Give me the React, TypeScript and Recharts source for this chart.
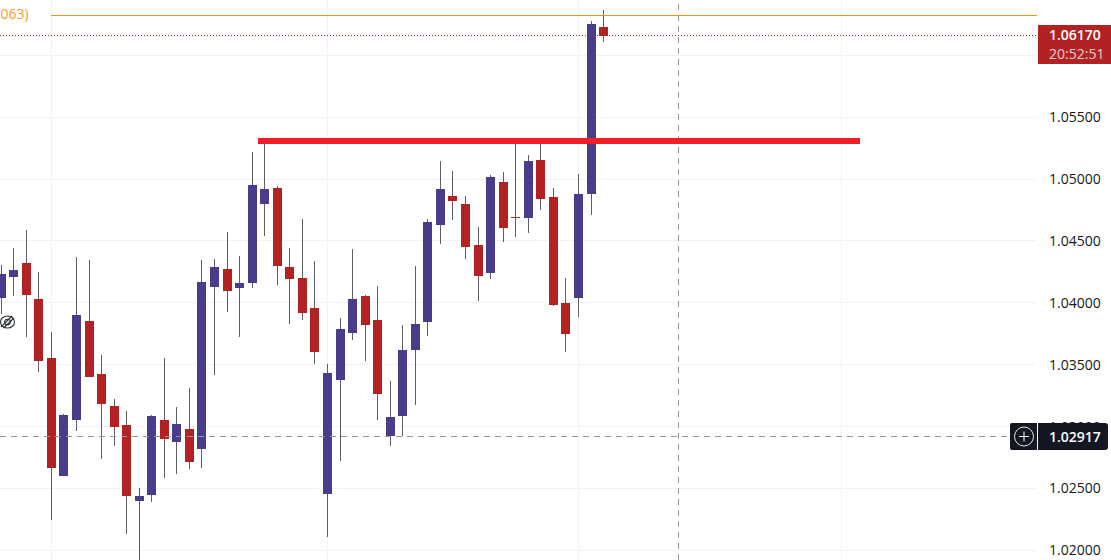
import React from "react";
import { ComposedChart, Bar, XAxis, YAxis, CartesianGrid, ReferenceLine } from "recharts";

const highs = [1.04306,1.04443,1.04588,1.04249,1.03764,1.03101,1.0437,1.04346,1.03578,1.03223,1.03126,1.02504,1.03093,1.03554,1.03158,1.03312,1.04346,1.04354,1.04572,1.04378,1.05219,1.05308,1.04944,1.04443,1.04677,1.04338,1.03506,1.03877,1.04435,1.04063,1.04136,1.03368,1.03821,1.04297,1.04677,1.05146,1.05065,1.04863,1.04613,1.05033,1.05057,1.05308,1.05194,1.05308,1.04928,1.042,1.05041,1.06277,1.06366];
const lows = [1.0391,1.04055,1.03724,1.03441,1.02245,1.026,1.02964,1.034,1.02738,1.02843,1.02132,1.01906,1.0239,1.02584,1.02617,1.02657,1.02665,1.03417,1.03926,1.03724,1.0412,1.0454,1.04144,1.03829,1.03861,1.03506,1.02108,1.02722,1.03699,1.0353,1.03053,1.02843,1.02924,1.03174,1.03732,1.04475,1.04669,1.04354,1.04015,1.04192,1.04491,1.04532,1.04564,1.0475,1.03974,1.03602,1.03885,1.0471,1.06108];
const opens = [1.04039,1.04209,1.04322,1.04031,1.03554,1.026,1.03053,1.03853,1.03425,1.03166,1.03013,1.02398,1.02447,1.03053,1.02875,1.0298,1.02819,1.04128,1.04273,1.0412,1.0416,1.04798,1.04928,1.04289,1.042,1.03958,1.02455,1.03376,1.03756,1.04055,1.03861,1.02924,1.03085,1.03619,1.03845,1.04629,1.04863,1.04798,1.04467,1.04241,1.04976,1.04693,1.04685,1.05154,1.04855,1.03998,1.04039,1.04879,1.06229];
const closes = [1.04233,1.04265,1.04063,1.0353,1.02665,1.03093,1.03901,1.034,1.03182,1.02996,1.02439,1.02439,1.03085,1.02899,1.03021,1.02714,1.04168,1.04289,1.04095,1.0416,1.04952,1.0492,1.04297,1.04192,1.03918,1.03602,1.03433,1.03788,1.04031,1.03821,1.03263,1.03077,1.03619,1.03829,1.04653,1.0492,1.04823,1.04451,1.04217,1.05017,1.04604,1.04685,1.05146,1.04839,1.03982,1.03748,1.04879,1.06253,1.06156];

const gridLevels = [1.02, 1.025, 1.03, 1.035, 1.04, 1.045, 1.05, 1.055, 1.06];
const axisLabels = [1.02, 1.025, 1.03, 1.035, 1.04, 1.045, 1.05, 1.055];
const timeGrid = [4, 26, 46, 66.98];

const resistanceLevel = 1.05308;
const resistanceFrom = 20.483;
const resistanceTo = 68.448;
const orangeLevel = 1.06322;
const orangeFrom = 3.988;
const orangeLabel = "063)";
const lastLineLevel = 1.0616;
const lastPrice = "1.06170";
const countdown = "20:52:51";
const crossLevel = 1.02919;
const crossPrice = "1.02917";
const crossBar = 53.99;

const xMin = -0.0745;
const xMax = 82.555;
const yMin = 1.019216;
const yMax = 1.064469;

const FONT = "'Open Sans', 'Noto Sans', sans-serif";
const UP = "#483d8b";
const DOWN = "#b22222";
const WICK = "#5d606b";
const DARK = "#131722";

const data = highs.map((h, i) => ({ i, range: [lows[i], h], open: opens[i], close: closes[i] }));

function Candle(props: any) {
  const { x, y, width, height, payload } = props;
  const [lo, hi] = payload.range;
  const unit = height / (hi - lo);
  const top = Math.round(y + (hi - Math.max(payload.open, payload.close)) * unit);
  const bottom = Math.round(y + (hi - Math.min(payload.open, payload.close)) * unit);
  const px = Math.floor(x + width / 2);
  const color = payload.close >= payload.open ? UP : DOWN;
  return (
    <g shapeRendering="crispEdges">
      <rect x={px} y={Math.round(y)} width={1} height={Math.round(height)} fill={WICK} />
      <rect x={px - 4} y={top} width={9} height={Math.max(1, bottom - top)} fill={color} />
    </g>
  );
}

function LastTag() {
  return (
    <g>
      <rect x={1038} y={25} width={73} height={39} fill={DOWN} />
      <text x={1049} y={40} fontFamily={FONT} fontSize={14} fontWeight={600} fill="#ffffff">{lastPrice}</text>
      <text x={1049} y={59} fontFamily={FONT} fontSize={14} fill="#f0cccc">{countdown}</text>
    </g>
  );
}

function CrossTag() {
  const cy = 436.5;
  return (
    <g>
      <path d="M1012 423H1037V450H1012Q1010 450 1010 448V425Q1010 423 1012 423Z" fill={DARK} />
      <circle cx={1024} cy={cy} r={9.5} fill="none" stroke="#e8e8ea" strokeWidth={1} />
      <path d={`M1024 ${cy - 5}V${cy + 5}M1019 ${cy}H1029`} stroke="#ffffff" strokeWidth={1} />
      <path d="M1038 423H1105Q1108 423 1108 426V447Q1108 450 1105 450H1038Z" fill={DARK} />
      <text x={1049} y={441.5} fontFamily={FONT} fontSize={14} fontWeight={600} fill="#ffffff">{crossPrice}</text>
    </g>
  );
}

function OrangeText() {
  return <text x={0.5} y={19} fontFamily={FONT} fontSize={14} fill="#f89b1f">{orangeLabel}</text>;
}

function EyeIcon() {
  return (
    <svg width={16} height={16} viewBox="0 0 16 16" style={{ position: "absolute", left: 0, top: 314 }}>
      <ellipse cx={7.5} cy={8} rx={7} ry={6} fill="none" stroke="#2a2e39" strokeWidth={1.1} />
      <circle cx={7.5} cy={8} r={2.8} fill="none" stroke="#2a2e39" strokeWidth={1.1} />
      <path d="M1 13L12 2M3.5 14L14 4" stroke="#2a2e39" strokeWidth={1.1} fill="none" />
    </svg>
  );
}

export default function App() {
  return (
    <div style={{ position: "absolute", left: 0, top: 0, width: 1111, height: 560, background: "#ffffff", overflow: "hidden" }}>
      <ComposedChart width={1111} height={560} data={data} margin={{ top: 0, right: 0, bottom: 0, left: 0 }} barCategoryGap={0}>
        <CartesianGrid horizontalValues={gridLevels} verticalValues={timeGrid} stroke="#f2f2f5" strokeWidth={1} shapeRendering="crispEdges" />
        <XAxis dataKey="i" type="number" domain={[xMin, xMax]} allowDataOverflow hide />
        <YAxis
          orientation="right"
          width={74}
          domain={[yMin, yMax]}
          allowDataOverflow
          ticks={axisLabels}
          interval={0}
          axisLine={false}
          tickLine={false}
          tickMargin={6}
          tickFormatter={(v: number) => v.toFixed(5)}
          tick={{ fontFamily: FONT, fontSize: 14, fill: DARK, textAnchor: "start" }}
        />
        <ReferenceLine segment={[{ x: xMin, y: lastLineLevel }, { x: xMax, y: lastLineLevel }]} stroke={DOWN} strokeWidth={1} strokeDasharray="1 2" shapeRendering="crispEdges" label={<LastTag />} />
        <ReferenceLine segment={[{ x: orangeFrom, y: orangeLevel }, { x: xMax, y: orangeLevel }]} stroke="#e8961e" strokeWidth={1} shapeRendering="crispEdges" label={<OrangeText />} />
        <Bar dataKey="range" shape={<Candle />} isAnimationActive={false} />
        <ReferenceLine segment={[{ x: crossBar, y: yMin }, { x: crossBar, y: yMax }]} stroke="#9598a1" strokeWidth={1} strokeDasharray="6 5" shapeRendering="crispEdges" />
        <ReferenceLine segment={[{ x: xMin, y: crossLevel }, { x: xMax, y: crossLevel }]} stroke="#9598a1" strokeWidth={1} strokeDasharray="6 5" shapeRendering="crispEdges" label={<CrossTag />} />
        <ReferenceLine segment={[{ x: resistanceFrom, y: resistanceLevel }, { x: resistanceTo, y: resistanceLevel }]} stroke="#f01e28" strokeWidth={6} shapeRendering="crispEdges" />
      </ComposedChart>
      <EyeIcon />
    </div>
  );
}
